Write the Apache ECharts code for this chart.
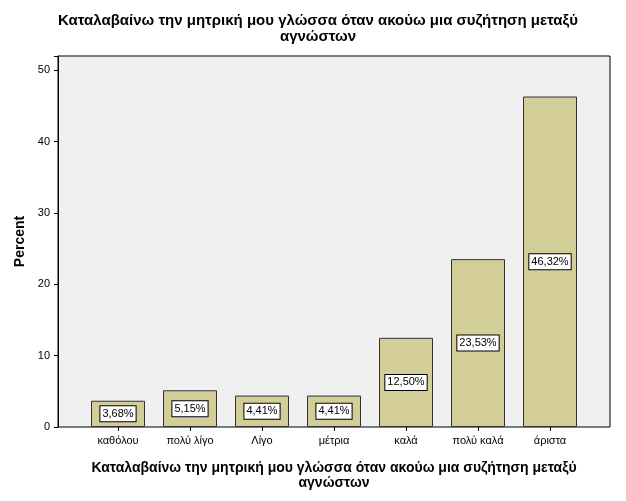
<!DOCTYPE html>
<html><head><meta charset="utf-8">
<script src="https://cdn.jsdelivr.net/npm/echarts@6/dist/echarts.min.js"></script>
<style>html,body{margin:0;padding:0;background:#fff}#c{width:626px;height:501px}</style>
</head><body><div id="c"></div>
<script>
const categories = ['καθόλου','πολύ λίγο','Λίγο','μέτρια','καλά','πολύ καλά','άριστα'];
const values = [3.68, 5.15, 4.41, 4.41, 12.50, 23.53, 46.32];
const yTicks = [0,10,20,30,40,50];
const chart = echarts.init(document.getElementById('c'));
chart.setOption({
  animation:false,
  textStyle:{fontFamily:'Arial, Liberation Sans, sans-serif'},
  title:{text:'Καταλαβαίνω την μητρική μου γλώσσα όταν ακούω μια συζήτηση μεταξύ\nαγνώστων',
    left:313, textAlign:'center', top:8,
    textStyle:{fontSize:15,fontWeight:'bold',color:'#000',lineHeight:16}},
  graphic:[{type:'rect',shape:{x:58,y:56,width:552,height:371},z:-10,
    style:{fill:'#f0f0f0',stroke:'#000',lineWidth:1}}],
  grid:{left:82,right:40,top:56,bottom:74,show:false},
  xAxis:{type:'category',data:categories,
    axisTick:{show:true,alignWithLabel:true,length:4,lineStyle:{color:'#000'}},
    axisLine:{show:false},
    axisLabel:{color:'#000',fontSize:11,margin:8},
    name:'Καταλαβαίνω την μητρική μου γλώσσα όταν ακούω μια συζήτηση μεταξύ\nαγνώστων',
    nameLocation:'middle',nameGap:34,
    nameTextStyle:{fontSize:14,fontWeight:'bold',color:'#000',lineHeight:15}},
  yAxis:{type:'value',min:0,max:52,interval:10,offset:24,
    axisLine:{show:true,lineStyle:{color:'#000'}},
    axisTick:{show:true,length:4,lineStyle:{color:'#000'}},
    splitLine:{show:false},
    axisLabel:{color:'#000',fontSize:11,formatter:v=>yTicks.includes(v)?String(v):''},
    name:'Percent',nameLocation:'middle',nameGap:28,
    nameTextStyle:{fontSize:14,fontWeight:'bold',color:'#000'}},
  series:[{type:'bar',data:values,barWidth:54,
    itemStyle:{color:'#d3ce97',borderColor:'#333',borderWidth:1},
    label:{show:true,position:'inside',formatter:p=>p.value.toFixed(2).replace('.',',')+'%',
      color:'#000',fontSize:11,backgroundColor:'#fff',borderColor:'#000',borderWidth:1,padding:[2,2]}}]
});
</script></body></html>
